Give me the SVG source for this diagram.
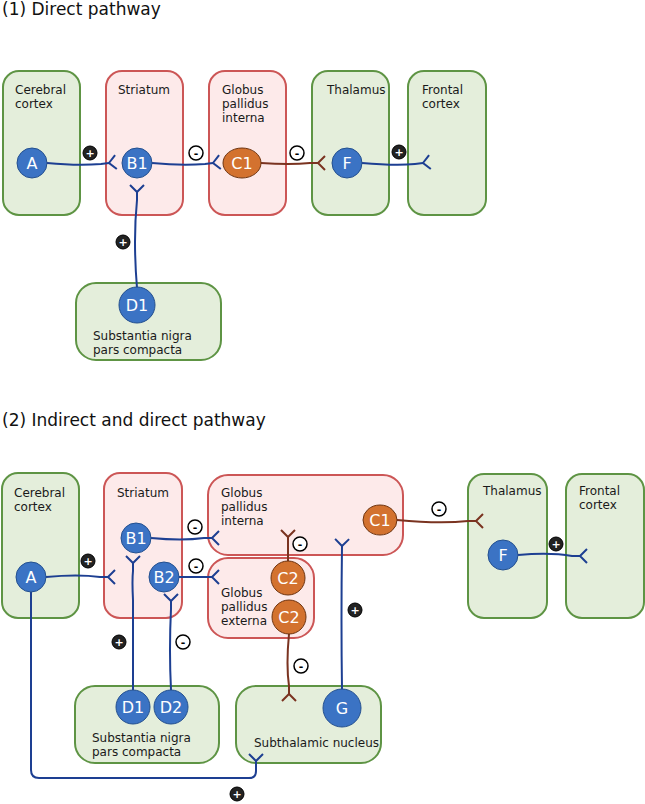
<svg xmlns="http://www.w3.org/2000/svg" width="645" height="804" viewBox="0 0 645 804">
<defs>
<style>
text{font-family:"DejaVu Sans","Liberation Sans",sans-serif;}
.title{font-size:17px;fill:#111;}
.lbl{font-size:12px;fill:#1a1a1a;}
.gbox{fill:#e4eedb;stroke:#5e9444;stroke-width:2;}
.rbox{fill:#fdeaea;stroke:#cc5656;stroke-width:2;}
.bn{fill:#3b73c4;stroke:#24508f;stroke-width:1;}
.on{fill:#d3722f;stroke:#6e3410;stroke-width:1;}
.nt{font-size:16px;fill:#fff;text-anchor:middle;}
.bl{fill:none;stroke:#1d3f92;stroke-width:2;marker-end:url(#fb);}
.br{fill:none;stroke:#7a3320;stroke-width:2;marker-end:url(#fr);}
.bp circle{fill:#222;stroke:#000;stroke-width:1;}
.bp text{fill:#fff;font-size:11px;font-weight:bold;text-anchor:middle;}
.bm circle{fill:#fff;stroke:#000;stroke-width:1.5;}
.bm text{fill:#000;font-size:11px;font-weight:bold;text-anchor:middle;}
</style>
<marker id="fb" markerUnits="userSpaceOnUse" refX="0" refY="0" orient="auto" overflow="visible" markerWidth="20" markerHeight="20">
<path d="M7,-7 L0,0 L7,7" fill="none" stroke="#1d3f92" stroke-width="2"/>
</marker>
<marker id="fr" markerUnits="userSpaceOnUse" refX="0" refY="0" orient="auto" overflow="visible" markerWidth="20" markerHeight="20">
<path d="M7,-7 L0,0 L7,7" fill="none" stroke="#7a3320" stroke-width="2"/>
</marker>
</defs>

<text class="title" x="2" y="15">(1) Direct pathway</text>
<text class="title" x="2" y="426">(2) Indirect and direct pathway</text>

<!-- Part 1 nodes -->
<g id="p1-cortex"><rect class="gbox" x="3" y="71" width="77" height="144" rx="16"/><text class="lbl" x="15" y="94">Cerebral</text><text class="lbl" x="15" y="108">cortex</text></g>
<g id="p1-striatum"><rect class="rbox" x="106" y="71" width="77" height="144" rx="16"/><text class="lbl" x="118" y="94">Striatum</text></g>
<g id="p1-gpi"><rect class="rbox" x="209" y="71" width="77" height="144" rx="16"/><text class="lbl" x="222" y="94">Globus</text><text class="lbl" x="222" y="108">pallidus</text><text class="lbl" x="222" y="122">interna</text></g>
<g id="p1-thalamus"><rect class="gbox" x="312" y="71" width="77" height="144" rx="16"/><text class="lbl" x="327" y="94">Thalamus</text></g>
<g id="p1-frontal"><rect class="gbox" x="408" y="71" width="78" height="144" rx="16"/><text class="lbl" x="422" y="94">Frontal</text><text class="lbl" x="422" y="108">cortex</text></g>
<g id="p1-snc"><rect class="gbox" x="76" y="283" width="145" height="77" rx="20"/><text class="lbl" x="93" y="340">Substantia nigra</text><text class="lbl" x="93" y="354">pars compacta</text></g>

<!-- Part 2 nodes -->
<g id="p2-cortex"><rect class="gbox" x="2" y="473" width="77" height="145" rx="16"/><text class="lbl" x="14" y="497">Cerebral</text><text class="lbl" x="14" y="511">cortex</text></g>
<g id="p2-striatum"><rect class="rbox" x="104" y="473" width="78" height="145" rx="16"/><text class="lbl" x="117" y="497">Striatum</text></g>
<g id="p2-gpi"><rect class="rbox" x="208" y="475" width="195" height="80" rx="20"/><text class="lbl" x="221" y="497">Globus</text><text class="lbl" x="221" y="511">pallidus</text><text class="lbl" x="221" y="525">interna</text></g>
<g id="p2-gpe"><rect class="rbox" x="208" y="558" width="106" height="80" rx="20"/><text class="lbl" x="221" y="597">Globus</text><text class="lbl" x="221" y="611">pallidus</text><text class="lbl" x="221" y="625">externa</text></g>
<g id="p2-thalamus"><rect class="gbox" x="468" y="474" width="79" height="144" rx="16"/><text class="lbl" x="483" y="495">Thalamus</text></g>
<g id="p2-frontal"><rect class="gbox" x="566" y="474" width="78" height="144" rx="16"/><text class="lbl" x="579" y="495">Frontal</text><text class="lbl" x="579" y="509">cortex</text></g>
<g id="p2-snc"><rect class="gbox" x="75" y="686" width="144" height="77" rx="20"/><text class="lbl" x="92" y="742">Substantia nigra</text><text class="lbl" x="92" y="756">pars compacta</text></g>
<g id="p2-stn"><rect class="gbox" x="236" y="686" width="145" height="77" rx="20"/><text class="lbl" x="254" y="747">Subthalamic nucleus</text></g>

<!-- connectors -->
<g id="connectors">
<path class="bl" d="M47,163 Q78,166 101,164 L109,163"/>
<path class="bl" d="M152,163 Q182,166 205,164 L213,163"/>
<path class="br" d="M261,163 Q290,165 310,163 L318,163"/>
<path class="bl" d="M362,163 Q396,166 415,164 L423,163"/>
<path class="bl" d="M137,288 Q133,240 137,200 L137,192"/>

<path class="bl" d="M46,577 Q78,574 100,577 L108,577"/>
<path class="bl" d="M151,538 Q182,541 204,538 L212,538"/>
<path class="bl" d="M179,577 L212,577"/>
<path class="bl" d="M31,592 L31,770 Q31,778 39,778 L249,778 Q256,778 256,771 L256,761"/>
<path class="bl" d="M133,690 L133,600 Q132,580 133,571 L133,563"/>
<path class="bl" d="M171,690 Q169,650 171,609 L171,601"/>
<path class="br" d="M288,561 L288,537"/>
<path class="br" d="M289,634 Q286,665 289,686 L289,694"/>
<path class="bl" d="M342,690 Q341,620 342,546"/>
<path class="br" d="M397,520 Q440,524 468,521 L476,521"/>
<path class="bl" d="M518,555 Q550,552 572,556 L580,556"/>
</g>

<!-- badges -->
<g id="badges">
<g class="bp"><circle cx="90" cy="153" r="7"/><text x="90" y="157">+</text></g>
<g class="bm"><circle cx="196" cy="153" r="7"/><text x="196" y="157">-</text></g>
<g class="bm"><circle cx="297" cy="153" r="7"/><text x="297" y="157">-</text></g>
<g class="bp"><circle cx="399" cy="152" r="7"/><text x="399" y="156">+</text></g>
<g class="bp"><circle cx="123" cy="242" r="7"/><text x="123" y="246">+</text></g>

<g class="bp"><circle cx="88" cy="561" r="7"/><text x="88" y="565">+</text></g>
<g class="bm"><circle cx="195" cy="527" r="7"/><text x="195" y="531">-</text></g>
<g class="bm"><circle cx="196" cy="566" r="7"/><text x="196" y="570">-</text></g>
<g class="bp"><circle cx="237" cy="794" r="7"/><text x="237" y="798">+</text></g>
<g class="bp"><circle cx="119" cy="642" r="7"/><text x="119" y="646">+</text></g>
<g class="bm"><circle cx="183" cy="642" r="7"/><text x="183" y="646">-</text></g>
<g class="bm"><circle cx="300" cy="544" r="7"/><text x="300" y="548">-</text></g>
<g class="bm"><circle cx="301" cy="666" r="7"/><text x="301" y="670">-</text></g>
<g class="bp"><circle cx="355" cy="610" r="7"/><text x="355" y="614">+</text></g>
<g class="bm"><circle cx="439" cy="509" r="7"/><text x="439" y="513">-</text></g>
<g class="bp"><circle cx="556" cy="544" r="7"/><text x="556" y="548">+</text></g>
</g>

<!-- neurons part 1 -->
<g id="p1-A"><circle class="bn" cx="32" cy="163" r="15"/><text class="nt" x="32" y="169">A</text></g>
<g id="p1-B1"><circle class="bn" cx="137" cy="163" r="15"/><text class="nt" x="137" y="169">B1</text></g>
<g id="p1-C1"><ellipse class="on" cx="242" cy="163" rx="19" ry="15"/><text class="nt" x="242" y="169">C1</text></g>
<g id="p1-F"><circle class="bn" cx="347" cy="163" r="15"/><text class="nt" x="347" y="169">F</text></g>
<g id="p1-D1"><circle class="bn" cx="137" cy="305" r="18"/><text class="nt" x="137" y="311">D1</text></g>

<!-- neurons part 2 -->
<g id="p2-A"><circle class="bn" cx="31" cy="577" r="15"/><text class="nt" x="31" y="583">A</text></g>
<g id="p2-B1"><circle class="bn" cx="136" cy="538" r="15"/><text class="nt" x="136" y="544">B1</text></g>
<g id="p2-B2"><circle class="bn" cx="164" cy="577" r="15"/><text class="nt" x="164" y="583">B2</text></g>
<g id="p2-C2a"><circle class="on" cx="288" cy="578" r="17"/><text class="nt" x="288" y="584">C2</text></g>
<g id="p2-C2b"><circle class="on" cx="289" cy="617" r="17"/><text class="nt" x="289" y="623">C2</text></g>
<g id="p2-C1"><ellipse class="on" cx="380" cy="520" rx="17" ry="15"/><text class="nt" x="380" y="526">C1</text></g>
<g id="p2-F"><circle class="bn" cx="503" cy="555" r="15"/><text class="nt" x="503" y="561">F</text></g>
<g id="p2-D1"><circle class="bn" cx="133" cy="707" r="17"/><text class="nt" x="133" y="713">D1</text></g>
<g id="p2-D2"><circle class="bn" cx="171" cy="707" r="17"/><text class="nt" x="171" y="713">D2</text></g>
<g id="p2-G"><circle class="bn" cx="342" cy="708" r="19"/><text class="nt" x="342" y="714">G</text></g>
</svg>
